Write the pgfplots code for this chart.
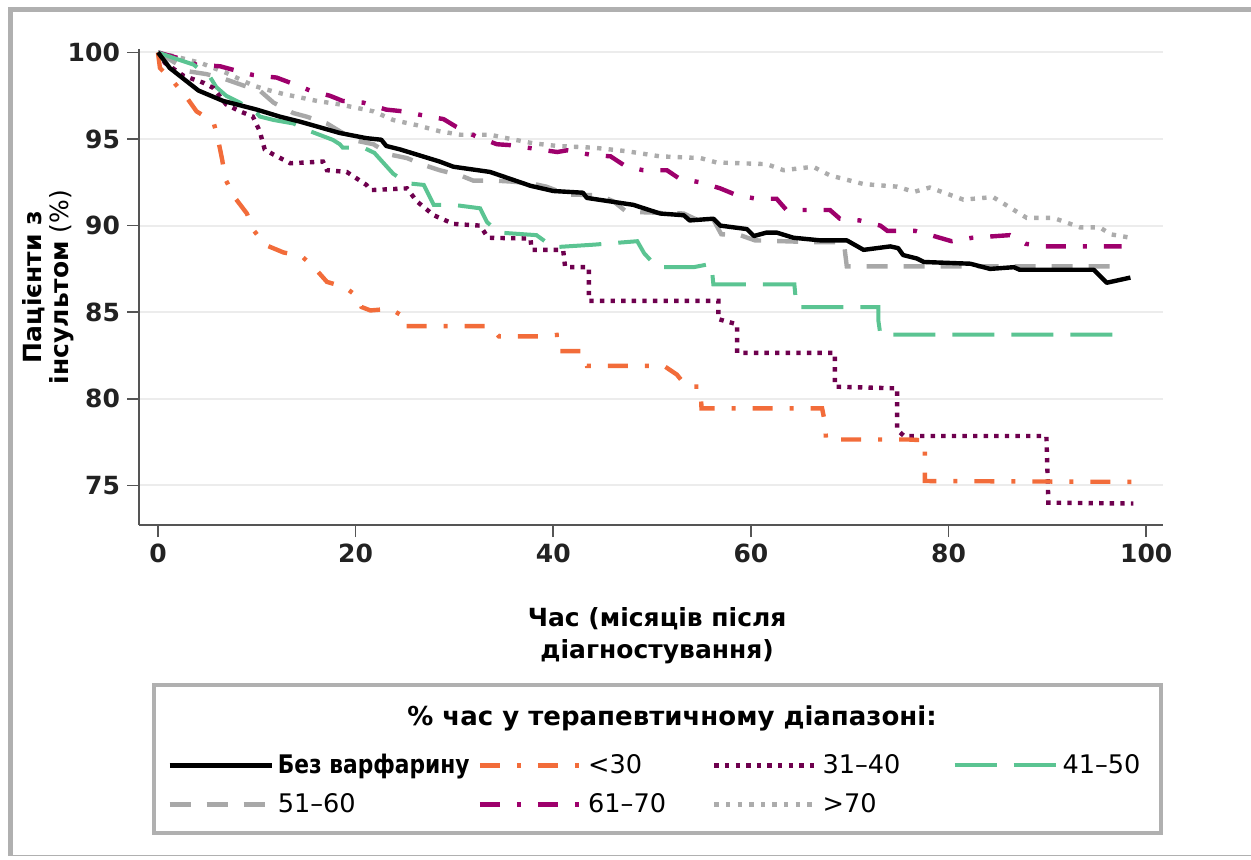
\documentclass[border=0pt]{standalone}
\usepackage{fontspec}
\setmainfont{DejaVu Sans}
\usepackage{pgfplots}
\pgfplotsset{compat=1.18}

\definecolor{cOrange}{RGB}{242,108,58}
\definecolor{cPurple}{RGB}{110,0,78}
\definecolor{cGreen}{RGB}{91,196,146}
\definecolor{cGrayDash}{RGB}{168,168,168}
\definecolor{cMagenta}{RGB}{158,0,108}
\definecolor{cGrayDot}{RGB}{172,172,172}
\definecolor{axisgray}{RGB}{85,85,85}
\definecolor{gridgray}{RGB}{236,236,236}
\definecolor{framegray}{RGB}{176,176,176}
\definecolor{ticktext}{RGB}{34,34,34}

\newcommand{\fs}{\fontsize{12.5}{14}\selectfont}

\tikzset{
  sNo/.style={black, line width=2.2pt, line join=round},
  sLt30/.style={cOrange, line width=2.2pt, line cap=butt, dash pattern=on 10pt off 8.5pt on 2pt off 8.5pt},
  s3140/.style={cPurple, line width=2.2pt, line cap=butt, dash pattern=on 2.2pt off 3.1pt},
  s4150/.style={cGreen, line width=2pt, line cap=butt, dash pattern=on 21pt off 8.5pt},
  s5160/.style={cGrayDash, line width=2.2pt, line cap=butt, dash pattern=on 10.5pt off 8pt},
  s6170/.style={cMagenta, line width=2.2pt, line cap=butt, dash pattern=on 10pt off 8.5pt on 2pt off 8.5pt},
  sGt70/.style={cGrayDot, line width=2.2pt, line cap=butt, dash pattern=on 2.2pt off 3.6pt},
}

\begin{document}
\begin{tikzpicture}[x=1pt,y=1pt]
\useasboundingbox (0,0) rectangle (625.5,429.5);
\begin{axis}[
  at={(69.5pt,167pt)}, anchor=south west,
  scale only axis, width=512pt, height=238pt,
  xmin=-1.92, xmax=101.7, ymin=72.71, ymax=100.2,
  axis x line*=bottom, axis y line*=left,
  axis line style={draw=axisgray, line width=0.8pt, -},
  tick align=outside, major tick length=6pt,
  tick style={draw=axisgray, line width=0.8pt},
  xtick={0,20,40,60,80,100}, ytick={75,80,85,90,95,100},
  ymajorgrids, grid style={draw=gridgray, line width=1pt},
  tick label style={font=\bfseries\fs, text=ticktext},
  /pgf/number format/assume math mode=true,
  every axis y label/.style={at={(axis description cs:-0.0889,0.5)}, rotate=90, anchor=center, align=center, font=\fontsize{12.5}{13.5}\selectfont},
  every axis x label/.style={at={(axis description cs:0.506,-0.233)}, anchor=center, align=center, font=\bfseries\fontsize{12.5}{16}\selectfont},
  ylabel={\textbf{Пацієнти з}\\\textbf{інсультом} (\%)},
  xlabel={Час (місяців після\\діагностування)},
  legend columns=4,
  legend cell align=left,
  legend image code/.code={\draw[#1] (0pt,0pt) -- (51pt,0pt);},
  legend style={at={(axis description cs:0.0273,-0.472)}, anchor=north west, draw=none, fill=none, inner sep=0pt,
    font=\fontsize{12.8}{14}\selectfont, row sep=4.5pt, /tikz/every even column/.append style={column sep=3pt}},
]
\addlegendimage{sNo}
\addlegendentry{\makebox[95pt][l]{\scalebox{0.85}[1]{\bfseries Без варфарину}}}
\addlegendimage{sLt30}
\addlegendentry{\makebox[57pt][l]{<30}}
\addlegendimage{s3140}
\addlegendentry{\makebox[60pt][l]{31–40}}
\addlegendimage{s4150}
\addlegendentry{41–50}
\addlegendimage{s5160}
\addlegendentry{\makebox[95pt][l]{51–60}}
\addlegendimage{s6170}
\addlegendentry{\makebox[57pt][l]{61–70}}
\addlegendimage{sGt70}
\addlegendentry{\makebox[60pt][l]{>70}}

% >70
\addplot[sGt70, forget plot] coordinates {(0,100) (1.5,99.8) (4.3,99.4) (7,98.8) (9.6,98.1) (10.7,97.9) (12.7,97.6) (16.1,97.2) (18.4,97.0) (21.8,96.6) (23.8,96.1) (26.2,95.8) (28.5,95.45) (30.6,95.25) (33.6,95.25) (35.3,95.05) (38,94.75) (40.4,94.6) (44.1,94.5) (47.4,94.3) (50.8,94.0) (54.9,93.9) (56.5,93.65) (61.6,93.55) (63.3,93.2) (66.3,93.4) (68,92.9) (71.4,92.4) (74.8,92.25) (76.5,91.95) (78.1,92.2) (81.5,91.5) (84.5,91.65) (87.9,90.45) (90.6,90.45) (93.3,89.9) (95.3,89.9) (96.4,89.5) (98.4,89.3)};
% 61-70
\addplot[s6170, forget plot] coordinates {(0,100) (1.9,99.7) (3.9,99.3) (6.3,99.2) (7.6,99.0) (9.6,98.7) (12,98.55) (13.4,98.25) (15.4,97.8) (17.4,97.5) (18.7,97.2) (20.8,97.1) (23.1,96.7) (24.8,96.6) (26.5,96.4) (28.9,96.15) (30.2,95.7) (32.2,95.15) (34.3,94.7) (35.6,94.65) (38,94.45) (40.4,94.25) (41.4,94.35) (43.7,94.1) (45.8,94.0) (47.4,93.4) (49.1,93.2) (51.5,93.2) (52.8,92.7) (54.9,92.5) (56.9,92.15) (58.6,91.75) (60.6,91.55) (62.6,91.55) (63.6,90.9) (68,90.9) (69,90.4) (71,90.3) (73.1,90.0) (73.8,89.7) (76.6,89.7) (78.5,89.4) (80.3,89.1) (82.4,89.3) (86.2,89.45) (87.8,88.95) (89.6,88.8) (97.5,88.8)};
% 51-60
\addplot[s5160, forget plot] coordinates {(0,100) (3.2,98.9) (4.9,98.75) (6.6,98.5) (8.6,98.1) (10.3,97.8) (11.7,97.1) (13.7,96.5) (15,96.3) (17.1,95.9) (18.4,95.45) (20.1,94.9) (21.8,94.7) (23.5,94.1) (25.2,93.9) (26.9,93.5) (28.5,93.2) (30.6,92.9) (31.9,92.6) (34,92.6) (35.6,92.55) (37.7,92.45) (39.3,92.25) (41.4,91.8) (44.7,91.75) (46.1,91.4) (47.4,90.8) (53.2,90.7) (54.5,90.35) (56.2,90.35) (57,89.5) (58.9,89.45) (60.4,89.15) (66,89.05) (69.4,89.05) (69.7,87.65) (97.7,87.65)};
% 41-50
\addplot[s4150, forget plot] coordinates {(0,100) (1.5,99.7) (3.6,99.3) (5.3,98.55) (5.9,98.0) (6.9,97.5) (8.3,97.1) (10,96.5) (10.3,96.3) (11.7,96.1) (13.7,95.9) (15.4,95.45) (17.7,94.95) (18.4,94.7) (18.7,94.5) (20.8,94.5) (21.9,94.2) (23.8,93.0) (25.2,92.45) (26.9,92.35) (27.9,91.2) (29.9,91.2) (32.6,91.0) (33.3,90.2) (34.5,89.6) (38.3,89.45) (40,88.75) (44.1,88.9) (48.5,89.1) (49.2,88.4) (50.5,87.6) (54.2,87.6) (56,87.8) (56.2,86.6) (64.4,86.6) (64.6,85.3) (72.9,85.3) (72.9,84.5) (73.1,83.7) (98.1,83.7)};
% 31-40
\addplot[s3140, forget plot] coordinates {(0,100) (0.7,99.4) (2.6,98.65) (4.6,98.25) (5.6,97.95) (6.9,97.0) (8.3,96.6) (9.6,96.3) (10.3,95.45) (10.8,94.4) (11.7,94.1) (13.4,93.6) (16.7,93.7) (17.1,93.2) (19.1,93.1) (21.1,92.35) (21.5,92.05) (25.2,92.15) (26.2,91.4) (27.9,90.6) (29.9,90.1) (32.6,90.0) (33.4,89.3) (37.7,89.25) (37.8,88.6) (41,88.6) (41.2,87.6) (43.6,87.6) (43.6,85.65) (56.7,85.65) (56.7,84.6) (58.6,84.3) (58.6,82.65) (68.5,82.65) (68.5,80.7) (74.8,80.6) (74.8,78.2) (75.5,77.85) (89.9,77.85) (90.1,74.0) (98.7,73.95)};
% <30
\addplot[sLt30, forget plot] coordinates {(0,100) (0.2,99.1) (1.5,98.35) (2.9,97.4) (3.4,97.0) (3.9,96.6) (5.6,96.0) (6.0,95.2) (6.5,93.8) (6.8,92.7) (7.8,91.6) (9.0,90.7) (9.6,89.8) (10.8,88.9) (12.7,88.45) (14.5,88.25) (15.7,87.65) (17.1,86.75) (18.9,86.45) (20.3,85.85) (20.6,85.3) (21.5,85.1) (23.5,85.2) (24.7,84.8) (24.8,84.2) (33.6,84.2) (34.5,83.6) (38.5,83.6) (40.6,83.7) (40.7,82.75) (42.9,82.75) (43.4,81.9) (51.2,81.9) (52.5,81.4) (53.5,80.7) (54.9,80.7) (55,79.45) (67.2,79.45) (67.5,78.6) (67.6,77.65) (75.9,77.65) (77.6,77.6) (77.6,75.25) (98.9,75.2)};
% no warfarin
\addplot[sNo, forget plot] coordinates {(0,100) (1.2,99.1) (4.1,97.8) (6.6,97.2) (10,96.7) (12.3,96.3) (14.4,96.0) (18.4,95.35) (21.1,95.05) (22.6,94.96) (23.1,94.6) (24.5,94.4) (28.5,93.7) (29.9,93.4) (33.6,93.1) (37.7,92.3) (40,92.0) (43,91.9) (43.4,91.6) (48.1,91.2) (50.8,90.7) (53.2,90.6) (53.8,90.3) (56.2,90.4) (56.9,90.0) (59.6,89.8) (60.3,89.4) (61.6,89.6) (62.6,89.6) (64.3,89.3) (67,89.15) (69.7,89.15) (71.4,88.6) (74.1,88.8) (74.9,88.7) (75.4,88.3) (76.8,88.1) (77.5,87.9) (82.2,87.8) (84.2,87.5) (86.6,87.6) (87.2,87.45) (94.7,87.45) (95.3,87.1) (96,86.7) (98.4,87.0)};
\end{axis}
% outer frame
\draw[framegray, line width=2.5pt] (5.25,1.75) -- (5.25,424.5) -- (625.5,424.5);
\draw[framegray, line width=0.6pt] (5.25,1.75) -- (625.5,1.75);
% legend box and title
\draw[framegray, line width=2pt] (77,13) rectangle (580.5,87);
\node[font=\bfseries\fontsize{13}{14}\selectfont] at (336,70.5) {\% час у терапевтичному діапазоні:};
\end{tikzpicture}
\end{document}
